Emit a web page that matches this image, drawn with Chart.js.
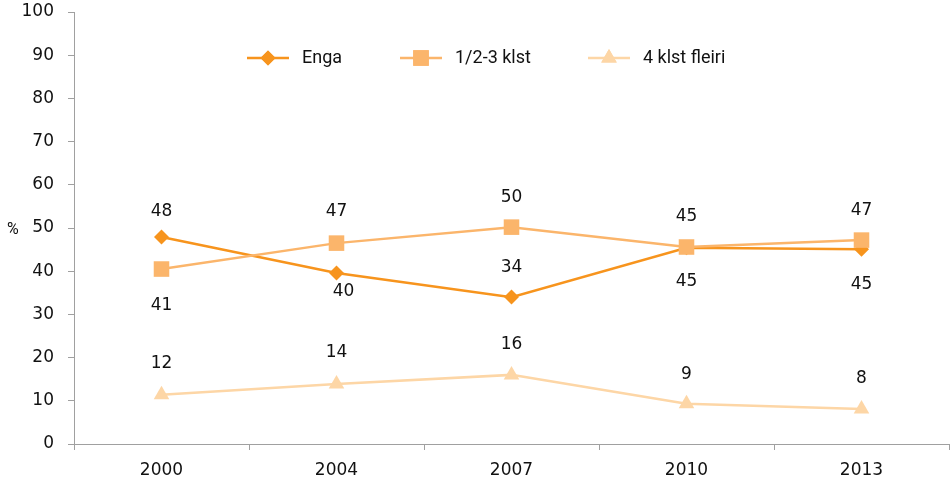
<!DOCTYPE html>
<html>
<head>
<meta charset="utf-8">
<script src="https://cdn.jsdelivr.net/npm/chart.js@4/dist/chart.umd.min.js"></script>
<style>
html,body{margin:0;padding:0;background:#fff;}
#wrap{width:951px;height:483px;position:relative;}
</style>
</head>
<body>
<div id="wrap"><canvas id="c" width="951" height="483"></canvas></div>
<script>
const categories = ['2000', '2004', '2007', '2010', '2013'];
const seriesNames = ['Enga', '1/2-3 klst', '4 klst fleiri'];
const engaValues = [47.9, 39.6, 34.0, 45.4, 45.1];
const halfToThreeValues = [40.5, 46.5, 50.2, 45.6, 47.2];
const fourPlusValues = [11.4, 13.9, 16.0, 9.3, 8.1];
const engaLabels = [48, 40, 34, 45, 45];
const halfToThreeLabels = [41, 47, 50, 45, 47];
const fourPlusLabels = [12, 14, 16, 9, 8];
const yTicks = [0, 10, 20, 30, 40, 50, 60, 70, 80, 90, 100];

const NUMFONT = '"DejaVu Sans", sans-serif';
const TEXTFONT = 'Roboto, "Open Sans", sans-serif';
const colors = ['#F7941D', '#FBB56B', '#FDD6A6'];
const pointStyles = ['rectRot', 'rect', 'triangle'];
const pointRadii = [7.5, 11, 9];
// label vertical offsets (px) relative to the point, per series
const labelOffsets = [
  [-25, 19, -30, 34, 35],
  [37, -32, -30, -30, -30],
  [-31, -31, -30, -29, -30]
];
const labelXShift = [
  [0, 7, 0, 0, 0],
  [0, 0, 0, 0, 0],
  [0, 0, 0, 0, 0]
];
const labelSets = [engaLabels, halfToThreeLabels, fourPlusLabels];
const valueSets = [engaValues, halfToThreeValues, fourPlusValues];

const datasets = valueSets.map((vals, i) => ({
  label: seriesNames[i],
  data: vals,
  borderColor: colors[i],
  backgroundColor: colors[i],
  pointBackgroundColor: colors[i],
  pointBorderColor: colors[i],
  pointBorderWidth: 0,
  pointStyle: pointStyles[i],
  pointRadius: pointRadii[i],
  pointHoverRadius: pointRadii[i],
  borderWidth: 2.5,
  tension: 0,
  clip: false,
  order: 3 - i
}));

const extrasPlugin = {
  id: 'extras',
  afterDatasetsDraw(chart) {
    const ctx = chart.ctx;
    ctx.save();
    ctx.font = '17px ' + NUMFONT;
    ctx.fillStyle = '#111';
    ctx.textAlign = 'center';
    ctx.textBaseline = 'middle';
    labelSets.forEach((labels, di) => {
      const meta = chart.getDatasetMeta(di);
      meta.data.forEach((pt, j) => {
        ctx.fillText(String(labels[j]), pt.x + labelXShift[di][j], pt.y + labelOffsets[di][j]);
      });
    });
    // "%" axis title
    ctx.textAlign = 'left';
    ctx.font = '16px ' + TEXTFONT;
    ctx.fillText('%', 7, 230);
    // legend
    ctx.font = '18px ' + TEXTFONT;
    const legendY = 58;
    const starts = [247, 400, 588];
    seriesNames.forEach((name, i) => {
      const x0 = starts[i];
      ctx.strokeStyle = colors[i];
      ctx.lineWidth = 2.5;
      ctx.beginPath();
      ctx.moveTo(x0, legendY);
      ctx.lineTo(x0 + 42, legendY);
      ctx.stroke();
      ctx.fillStyle = colors[i];
      ctx.beginPath();
      Chart.helpers.drawPoint(ctx, {pointStyle: pointStyles[i], radius: pointRadii[i], borderWidth: 0}, x0 + 21, legendY);
      ctx.fill();
      ctx.fillStyle = '#111';
      ctx.textAlign = 'left';
      ctx.fillText(name, x0 + 55, legendY);
    });
    ctx.restore();
  }
};

new Chart(document.getElementById('c'), {
  type: 'line',
  data: { labels: categories, datasets },
  options: {
    responsive: false,
    animation: false,
    events: [],
    layout: { autoPadding: false, padding: { top: 12, right: 2, left: 0, bottom: 0 } },
    plugins: { legend: { display: false }, tooltip: { enabled: false } },
    scales: {
      x: {
        offset: true,
        grid: { offset: true, drawOnChartArea: false, drawTicks: true, tickLength: 6, color: '#A0A0A0', lineWidth: 1 },
        border: { color: '#A0A0A0', width: 1 },
        ticks: { color: '#111', font: { family: NUMFONT, size: 17 }, padding: 10, maxRotation: 0 },
        afterFit(axis) { axis.height = 39; axis.paddingLeft = 0; axis.paddingRight = 0; }
      },
      y: {
        min: 0, max: 100,
        afterBuildTicks(axis) { axis.ticks = yTicks.map(v => ({ value: v })); },
        grid: { drawOnChartArea: false, drawTicks: true, tickLength: 6, color: '#A0A0A0', lineWidth: 1 },
        border: { color: '#A0A0A0', width: 1 },
        ticks: { color: '#111', font: { family: NUMFONT, size: 17 }, padding: 14 },
        afterFit(axis) { axis.width = 74; axis.paddingTop = 0; axis.paddingBottom = 0; }
      }
    }
  },
  plugins: [extrasPlugin]
});
</script>
</body>
</html>
